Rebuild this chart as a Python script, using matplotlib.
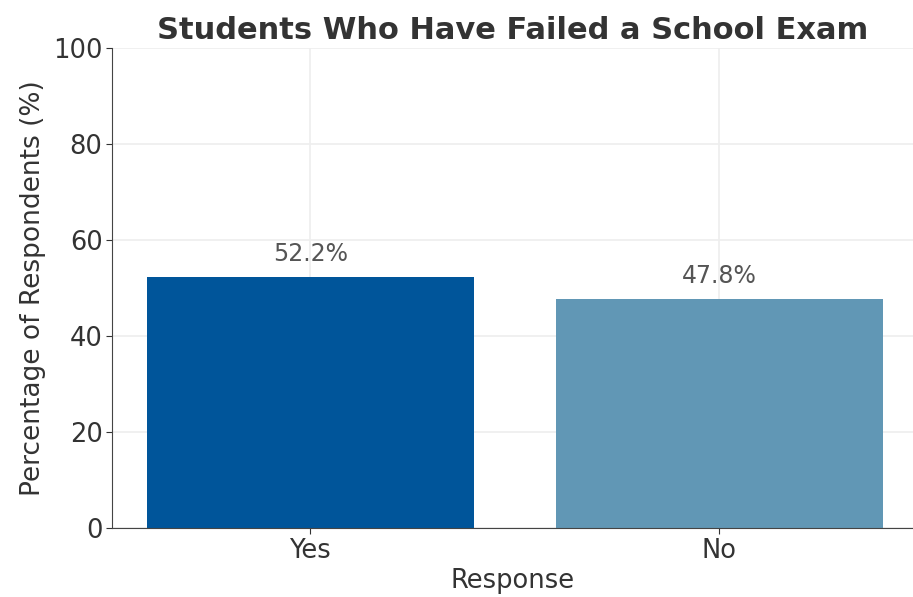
import matplotlib
matplotlib.use("Agg")
import matplotlib.pyplot as plt

categories = ["Yes", "No"]
values = [52.2, 47.8]
colors = ["#00559a", "#6197b5"]
yticks = [0, 20, 40, 60, 80, 100]

plt.rcParams['font.family'] = ['DejaVu Sans']
fig = plt.figure(figsize=(9.13, 5.97), dpi=100)
ax = fig.add_axes([0.123, 0.115, 0.877, 0.805])

x = list(range(len(categories)))
bars = ax.bar(x, values, width=0.8, color=colors, zorder=2)
for b, v in zip(bars, values):
    ax.text(b.get_x() + b.get_width() / 2, v + 2.3, f"{v}%", ha="center", va="bottom",
            fontsize=17, color="#555555", zorder=3)

ax.set_xlim(-0.484, 1.474)
ax.set_ylim(0, 100)
ax.set_yticks(yticks)
ax.set_xticks(x)
ax.set_xticklabels(categories)
ax.tick_params(labelsize=18.5, colors="#333333", length=4, pad=3)
ax.grid(True, color="#eeeeee", linewidth=1.2, zorder=0)
ax.set_axisbelow(True)
for s in ["top", "right"]:
    ax.spines[s].set_visible(False)
for s in ["left", "bottom"]:
    ax.spines[s].set_color("#444444")
ax.set_xlabel("Response", fontsize=18.5, color="#333333", labelpad=3)
ax.set_ylabel("Percentage of Respondents (%)", fontsize=19, color="#333333", labelpad=5)
ax.set_title("Students Who Have Failed a School Exam", fontsize=22, fontweight="bold",
             color="#333333", pad=6)

fig.savefig("out.png", dpi=100)
